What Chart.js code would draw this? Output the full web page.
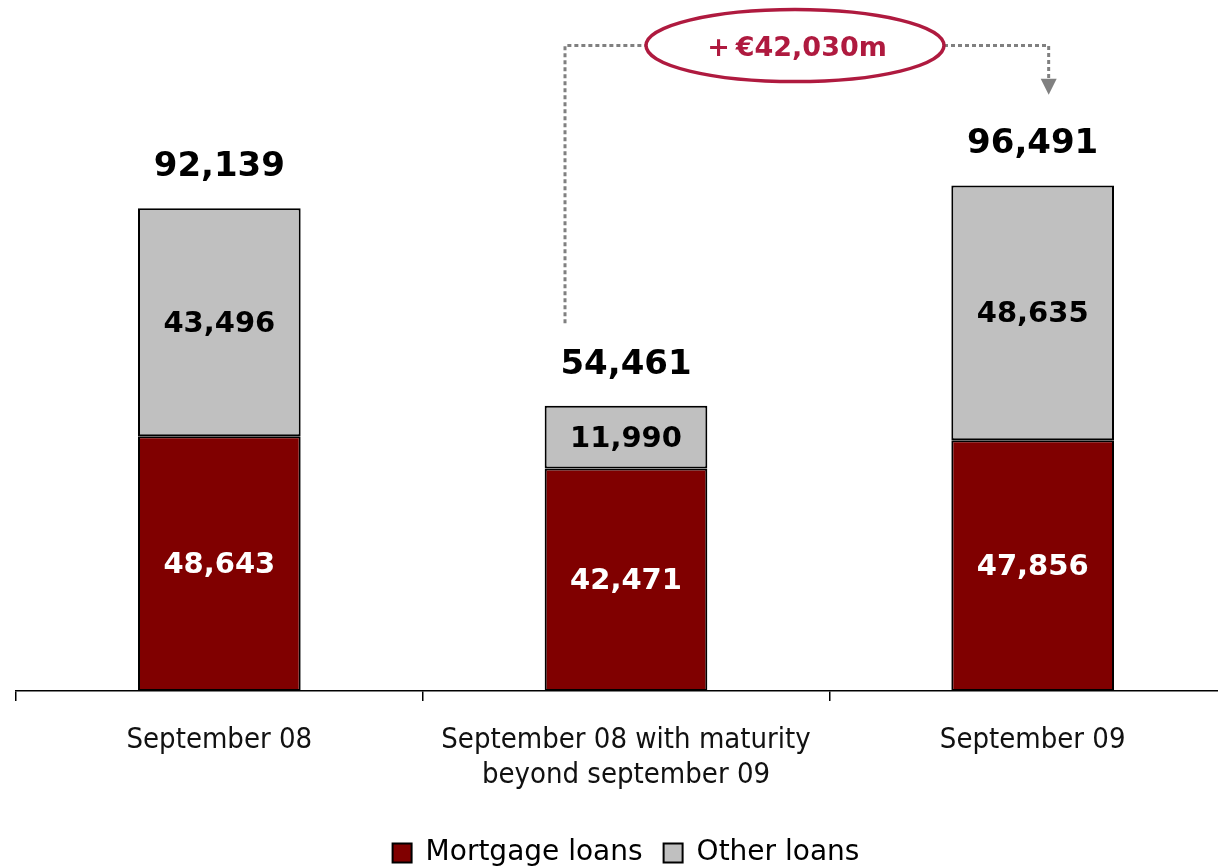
<!DOCTYPE html>
<html>
<head>
<meta charset="utf-8">
<script src="https://cdn.jsdelivr.net/npm/chart.js@4/dist/chart.umd.min.js"></script>
<style>
  html, body { margin: 0; padding: 0; background: #fff; overflow: hidden; }
  /* chart area runs a little past the right edge, like the original slide */
  #wrap { width: 1236px; height: 868px; position: relative; }
</style>
</head>
<body>
<div id="wrap"><canvas id="loansChart"></canvas></div>
<script>
// chart data
const categories = ['September 08', ['September 08 with maturity', 'beyond september 09'], 'September 09'];
const mortgageLoans = [48643, 42471, 47856];
const otherLoans = [43496, 11990, 48635];
const totals = [92139, 54461, 96491];

const fmt = v => v.toLocaleString('en-US');

// force the legend height so it sits at the very bottom
const legendFit = {
    id: 'legendFit',
    beforeInit(chart) {
        const origFit = chart.legend.fit;
        chart.legend.fit = function () {
            origFit.bind(chart.legend)();
            this.height = 50;
        };
    }
};

// value labels + the +€ annotation over the 2nd and 3rd bar
const labelPlugin = {
    id: 'labelPlugin',
    afterDatasetsDraw(chart) {
        const ctx = chart.ctx;
        const xs = chart.scales.x;
        const ys = chart.scales.y;
        const m0 = chart.getDatasetMeta(0);
        const m1 = chart.getDatasetMeta(1);
        ctx.save();
        ctx.textAlign = 'center';
        ctx.textBaseline = 'middle';
        for (let i = 0; i < categories.length; i++) {
            const b0 = m0.data[i];
            const b1 = m1.data[i];
            ctx.font = 'bold 29px "DejaVu Sans"';
            ctx.fillStyle = '#ffffff';
            ctx.fillText(fmt(mortgageLoans[i]), b0.x, (b0.y + b0.base) / 2 + 2);
            ctx.fillStyle = '#000000';
            ctx.fillText(fmt(otherLoans[i]), b1.x, (b1.y + b1.base) / 2 + 2);
            ctx.font = 'bold 34px "DejaVu Sans"';
            ctx.fillText(fmt(totals[i]), b1.x, b1.y - 41);
        }

        // annotation
        const startX = xs.getPixelForValue(1) - 61;
        const startY = ys.getPixelForValue(70200);
        const topY = ys.getPixelForValue(123200);
        const endX = xs.getPixelForValue(2) + 16;
        const tipY = ys.getPixelForValue(113800);
        const cx = xs.getPixelForValue(1) + 169;
        const rx = 149, ry = 36;

        ctx.strokeStyle = '#808080';
        ctx.lineWidth = 3;
        ctx.setLineDash([4, 3]);
        ctx.beginPath();
        ctx.moveTo(startX, startY);
        ctx.lineTo(startX, topY);
        ctx.lineTo(cx - rx, topY);
        ctx.moveTo(cx + rx, topY);
        ctx.lineTo(endX, topY);
        ctx.lineTo(endX, tipY - 16);
        ctx.stroke();
        ctx.setLineDash([]);
        ctx.fillStyle = '#808080';
        ctx.beginPath();
        ctx.moveTo(endX - 8, tipY - 16);
        ctx.lineTo(endX + 8, tipY - 16);
        ctx.lineTo(endX, tipY);
        ctx.closePath();
        ctx.fill();

        ctx.strokeStyle = '#AF1A3F';
        ctx.lineWidth = 3.5;
        ctx.beginPath();
        ctx.ellipse(cx, topY, rx, ry, 0, 0, Math.PI * 2);
        ctx.stroke();

        // draw "+" and the amount separately so they do not touch
        ctx.fillStyle = '#AF1A3F';
        ctx.font = 'bold 27px "DejaVu Sans"';
        ctx.textAlign = 'left';
        const plus = '+';
        const amount = '€' + fmt(totals[2] - totals[1]) + 'm';
        const gap = 6;
        const wPlus = ctx.measureText(plus).width;
        const wAmt = ctx.measureText(amount).width;
        const x0 = cx + 2 - (wPlus + gap + wAmt) / 2;
        ctx.fillText(plus, x0, topY + 3);
        ctx.fillText(amount, x0 + wPlus + gap, topY + 3);
        ctx.restore();
    }
};

new Chart(document.getElementById('loansChart'), {
    type: 'bar',
    data: {
        labels: categories,
        datasets: [{
            label: 'Mortgage loans',
            data: mortgageLoans,
            backgroundColor: '#800000',
            borderColor: '#000000',
            borderWidth: 2,
            borderSkipped: false
        }, {
            label: 'Other loans',
            data: otherLoans,
            backgroundColor: '#C0C0C0',
            borderColor: '#000000',
            borderWidth: 2,
            borderSkipped: false
        }]
    },
    options: {
        responsive: true,
        maintainAspectRatio: false,
        animation: false,
        layout: { padding: { left: 16, right: 0, top: 10, bottom: 0 } },
        datasets: { bar: { categoryPercentage: 1, barPercentage: 0.4 } },
        plugins: {
            tooltip: { enabled: false },
            legend: {
                position: 'bottom',
                labels: {
                    boxWidth: 19,
                    boxHeight: 19,
                    padding: 21,
                    color: '#000',
                    font: { family: '"DejaVu Sans"', size: 28 }
                }
            }
        },
        scales: {
            x: {
                stacked: true,
                grid: {
                    offset: true,
                    drawOnChartArea: false,
                    drawTicks: true,
                    tickLength: 10,
                    lineWidth: 1.5,
                    color: '#000'
                },
                border: { display: true, color: '#000', width: 1.5 },
                ticks: {
                    color: '#111',
                    padding: 21,
                    maxRotation: 0,
                    autoSkip: false,
                    font: { family: '"DejaVu Sans Condensed", "DejaVu Sans"', size: 29, lineHeight: 1.24 }
                },
                afterFit: s => { s.height = 127; }
            },
            y: {
                stacked: true,
                display: false,
                min: 0,
                max: 130000
            }
        }
    },
    plugins: [legendFit, labelPlugin]
});
</script>
</body>
</html>
